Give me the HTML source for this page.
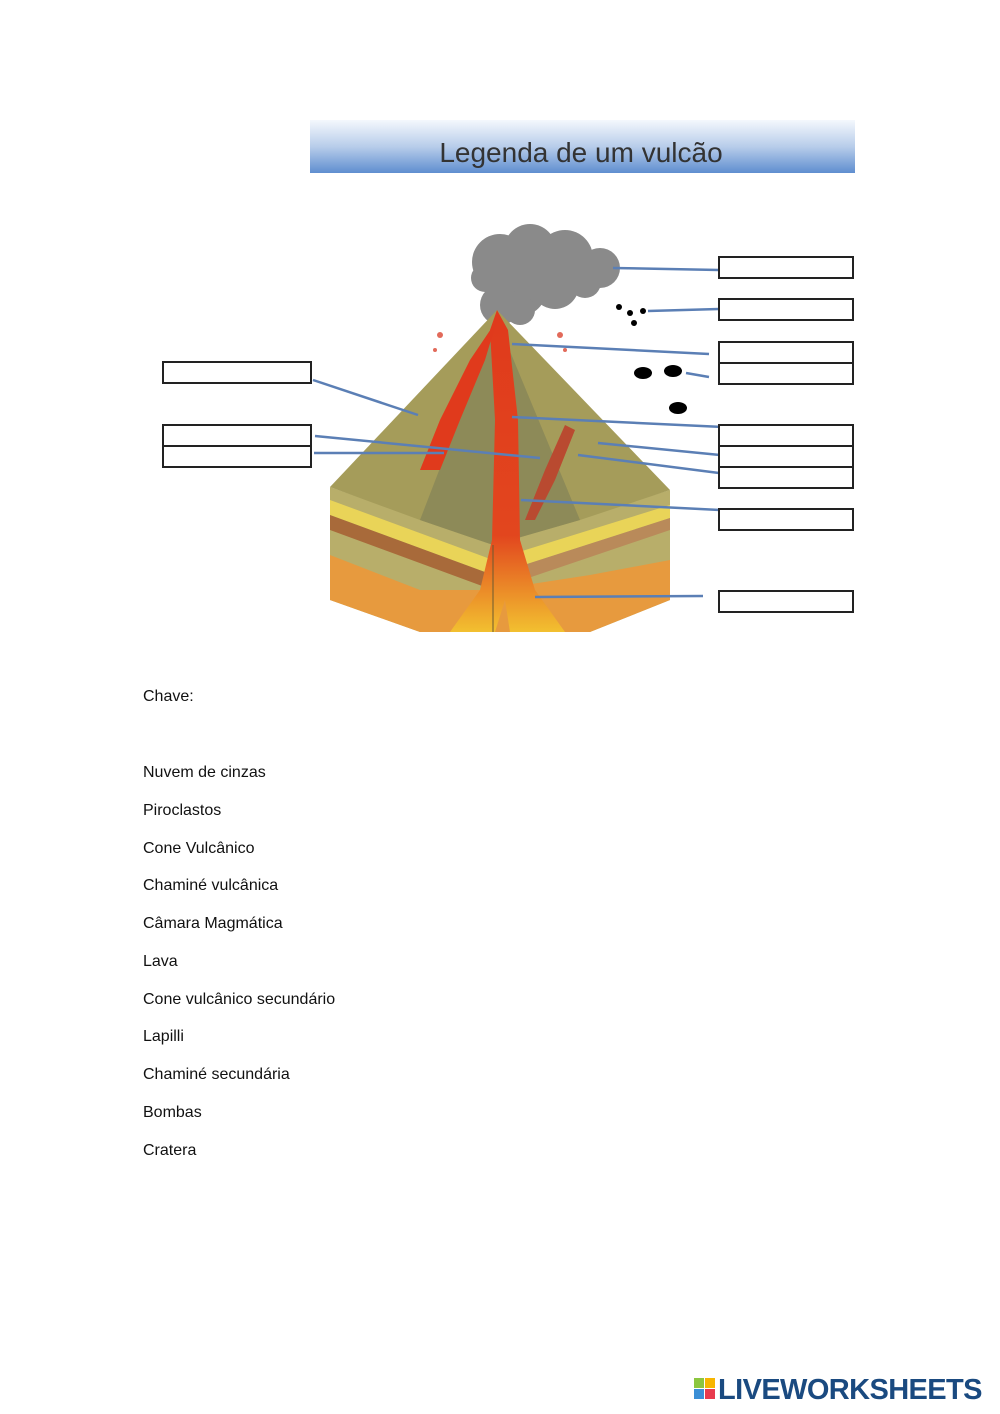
<!DOCTYPE html>
<html><head><meta charset="utf-8"><style>
body{margin:0;background:#fff;}
.p{position:relative;width:1000px;height:1414px;overflow:hidden;font-family:"Liberation Sans",sans-serif;}
.t{position:absolute;left:143px;font-size:16px;color:#111;line-height:20px;}
</style></head><body><div class="p">
<svg width="1000" height="700" style="position:absolute;left:0;top:0">
<defs>
<linearGradient id="ban" x1="0" y1="0" x2="0" y2="1"><stop offset="0" stop-color="#f4f8fd"/><stop offset="0.5" stop-color="#b8cdea"/><stop offset="1" stop-color="#5f8ed0"/></linearGradient>
<linearGradient id="mag" x1="0" y1="0" x2="0" y2="1"><stop offset="0" stop-color="#e03a1c"/><stop offset="0.7" stop-color="#e2461e"/><stop offset="1" stop-color="#f2c030"/></linearGradient>
</defs>
<rect x="310" y="120" width="545" height="53" fill="url(#ban)"/>
<text x="581" y="162" font-size="28" text-anchor="middle" fill="#333" font-family="Liberation Sans, sans-serif">Legenda  de um vulcão</text>
<!-- cloud -->
<g fill="#8a8a8a">
<circle cx="500" cy="262" r="28"/><circle cx="530" cy="250" r="26"/><circle cx="565" cy="258" r="28"/><circle cx="600" cy="268" r="20"/><circle cx="520" cy="290" r="26"/><circle cx="555" cy="285" r="24"/><circle cx="500" cy="305" r="20"/><circle cx="485" cy="278" r="14"/><circle cx="520" cy="310" r="15"/><circle cx="585" cy="282" r="16"/>
</g>
<!-- block faces -->
<polygon points="330,487 493,545 493,632 420,632 330,600" fill="#b8ae6a"/>
<polygon points="493,545 670,490 670,600 590,632 493,632" fill="#b8ae6a"/>
<polygon points="330,500 493,560 493,575 330,515" fill="#e9d458"/>
<polygon points="330,515 493,575 493,590 330,530" fill="#a86a3a"/>
<polygon points="330,555 420,590 493,590 493,632 420,632 330,600" fill="#e79a3e"/>
<polygon points="493,560 670,505 670,518 493,575" fill="#e9d458"/>
<polygon points="493,575 670,518 670,530 493,590" fill="#b98a5a"/>
<polygon points="493,590 590,575 670,560 670,600 590,632 493,632" fill="#e79a3e"/>
<!-- cone -->
<polygon points="497,310 330,487 420,520 493,545 580,520 670,490" fill="#a59c5a"/>
<polygon points="497,320 420,520 493,545 580,520" fill="#8d8a58"/>
<!-- magma -->
<path d="M497,310 L508,330 L518,420 L520,540 L535,590 L565,632 L510,632 L505,600 L495,632 L450,632 L480,590 L492,540 L495,420 L490,330 Z" fill="url(#mag)"/>
<path d="M497,320 L470,360 L440,420 L420,470 L440,470 L460,420 L485,360 Z" fill="#e03a1c"/>
<path d="M525,520 L545,470 L565,425 L575,430 L555,480 L535,520 Z" fill="#b94a30"/>
<line x1="493" y1="545" x2="493" y2="632" stroke="#6a5a30" stroke-width="1"/>
<g fill="#e26a5a"><circle cx="440" cy="335" r="3"/><circle cx="435" cy="350" r="2"/><circle cx="560" cy="335" r="3"/><circle cx="565" cy="350" r="2"/></g>
<g fill="#000"><circle cx="619" cy="307" r="3"/><circle cx="630" cy="313" r="3"/><circle cx="643" cy="311" r="3"/><circle cx="634" cy="323" r="3"/>
<ellipse cx="643" cy="373" rx="9" ry="6"/><ellipse cx="673" cy="371" rx="9" ry="6"/><ellipse cx="678" cy="408" rx="9" ry="6"/></g>
<g stroke="#5b7fb5" stroke-width="2.5" fill="none">
<line x1="613" y1="268" x2="719" y2="270"/><line x1="648" y1="311" x2="719" y2="309"/>
<line x1="512" y1="344" x2="709" y2="354"/><line x1="686" y1="373" x2="709" y2="377"/>
<line x1="512" y1="417" x2="723" y2="427"/><line x1="315" y1="436" x2="540" y2="458"/>
<line x1="314" y1="453" x2="444" y2="453"/><line x1="598" y1="443" x2="720" y2="455"/>
<line x1="578" y1="455" x2="719" y2="473"/><line x1="521" y1="500" x2="720" y2="510"/>
<line x1="535" y1="597" x2="703" y2="596"/><line x1="313" y1="380" x2="418" y2="415"/>
</g>
<g fill="#fff" stroke="#222" stroke-width="2">
<rect x="719" y="257" width="134" height="21"/><rect x="719" y="299" width="134" height="21"/>
<rect x="719" y="342" width="134" height="21"/><rect x="719" y="363" width="134" height="21"/>
<rect x="719" y="425" width="134" height="21"/><rect x="719" y="446" width="134" height="21"/>
<rect x="719" y="467" width="134" height="21"/><rect x="719" y="509" width="134" height="21"/>
<rect x="719" y="591" width="134" height="21"/>
<rect x="163" y="362" width="148" height="21"/><rect x="163" y="425" width="148" height="21"/><rect x="163" y="446" width="148" height="21"/>
</g>
</svg>
<div class="t" style="top:687px">Chave:</div>
<div class="t" style="top:763px">Nuvem de cinzas</div>
<div class="t" style="top:801px">Piroclastos</div>
<div class="t" style="top:839px">Cone Vulcânico</div>
<div class="t" style="top:876px">Chaminé vulcânica</div>
<div class="t" style="top:914px">Câmara Magmática</div>
<div class="t" style="top:952px">Lava</div>
<div class="t" style="top:990px">Cone vulcânico secundário</div>
<div class="t" style="top:1027px">Lapilli</div>
<div class="t" style="top:1065px">Chaminé secundária</div>
<div class="t" style="top:1103px">Bombas</div>
<div class="t" style="top:1141px">Cratera</div>
<div style="position:absolute;left:694px;top:1378px;width:22px;height:22px">
<div style="position:absolute;left:0;top:0;width:10px;height:10px;background:#8cc63f"></div>
<div style="position:absolute;left:11px;top:0;width:10px;height:10px;background:#f7b500"></div>
<div style="position:absolute;left:0;top:11px;width:10px;height:10px;background:#3b8fd6"></div>
<div style="position:absolute;left:11px;top:11px;width:10px;height:10px;background:#e83b4d"></div>
</div>
<div style="position:absolute;left:718px;top:1373px;font-size:29px;font-weight:bold;color:#1a4a80;letter-spacing:-0.6px;line-height:34px">LIVEWORKSHEETS</div>
</div></body></html>
